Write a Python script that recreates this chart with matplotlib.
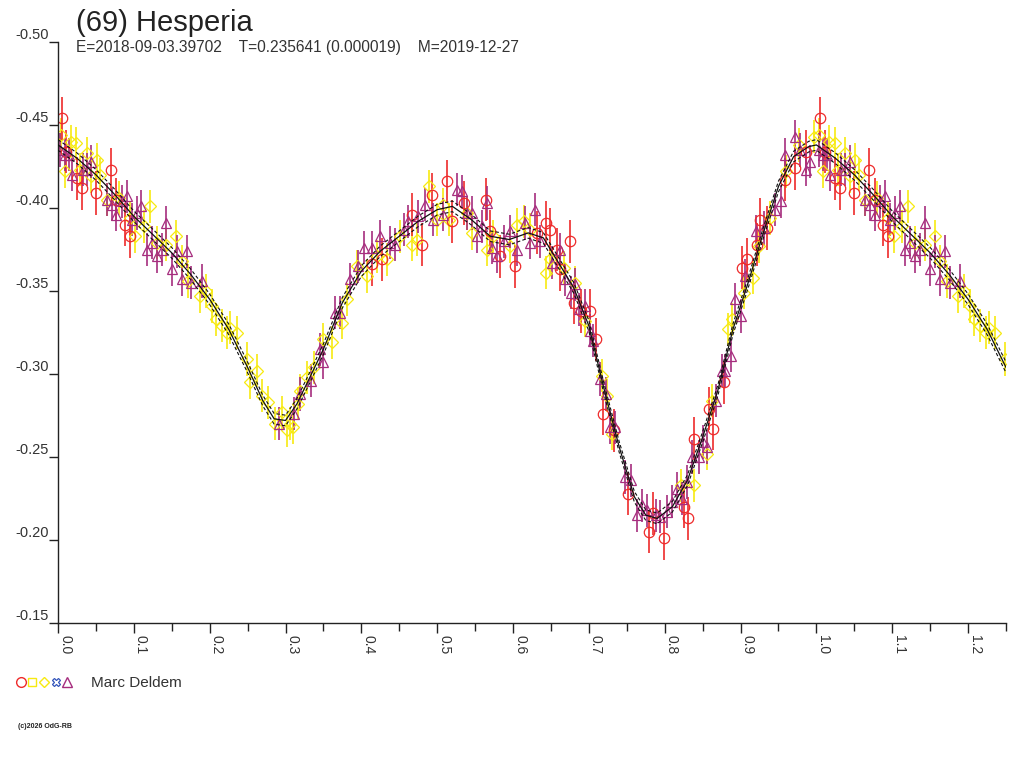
import numpy as np
import matplotlib
matplotlib.use("Agg")
import matplotlib.pyplot as plt
from matplotlib.lines import Line2D
from matplotlib.legend_handler import HandlerTuple

plt.rcParams['font.family'] = ['Liberation Sans', 'DejaVu Sans']

# ---------------- data ----------------
title = "(69) Hesperia"
subtitle = "E=2018-09-03.39702    T=0.235641 (0.000019)    M=2019-12-27"
observer = "Marc Deldem"
copyright_text = "(c)2026 OdG-RB"

# model light curve (phase, magnitude)
model_phase = [0.000, 0.025, 0.050, 0.075, 0.100, 0.125, 0.150, 0.175, 0.200, 0.225,
               0.250, 0.270, 0.285, 0.300, 0.315, 0.330, 0.350, 0.375, 0.400, 0.425,
               0.450, 0.475, 0.500, 0.520, 0.545, 0.570, 0.595, 0.620, 0.640, 0.660,
               0.680, 0.700, 0.720, 0.740, 0.760, 0.775, 0.790, 0.810, 0.830, 0.850,
               0.870, 0.890, 0.910, 0.930, 0.950, 0.970, 0.990, 1.000]
model_mag = [-0.438, -0.430, -0.420, -0.408, -0.395, -0.384, -0.373, -0.360, -0.345, -0.327,
             -0.304, -0.284, -0.273, -0.272, -0.282, -0.296, -0.315, -0.343, -0.362, -0.374,
             -0.383, -0.392, -0.399, -0.401, -0.393, -0.383, -0.381, -0.385, -0.382, -0.367,
             -0.352, -0.329, -0.291, -0.256, -0.226, -0.215, -0.213, -0.220, -0.236, -0.262,
             -0.290, -0.327, -0.355, -0.385, -0.413, -0.431, -0.437, -0.438]
model_sigma = 0.0032

red_phase = [0.005, 0.011, 0.025, 0.031, 0.050, 0.070, 0.077, 0.088, 0.095, 0.414,
             0.427, 0.467, 0.480, 0.493, 0.513, 0.519, 0.535, 0.565, 0.570, 0.583,
             0.603, 0.631, 0.643, 0.649, 0.658, 0.662, 0.675, 0.680, 0.689, 0.701,
             0.709, 0.719, 0.733, 0.752, 0.779, 0.785, 0.799, 0.825, 0.831, 0.838,
             0.858, 0.864, 0.878, 0.902, 0.909, 0.922, 0.926, 0.935, 0.959, 0.972, 0.986]
red_mag = [-0.454, -0.434, -0.418, -0.412, -0.409, -0.423, -0.405, -0.390, -0.383, -0.366,
           -0.369, -0.396, -0.378, -0.408, -0.416, -0.392, -0.403, -0.405, -0.386, -0.371,
           -0.365, -0.385, -0.391, -0.387, -0.375, -0.363, -0.380, -0.343, -0.338, -0.338,
           -0.321, -0.276, -0.266, -0.228, -0.205, -0.216, -0.201, -0.220, -0.213, -0.261,
           -0.279, -0.267, -0.295, -0.364, -0.369, -0.378, -0.393, -0.388, -0.417, -0.424, -0.434]
red_err = 0.013

yellow_phase = [0.004, 0.009, 0.017, 0.024, 0.029, 0.038, 0.044, 0.051, 0.056, 0.064,
                0.080, 0.095, 0.102, 0.113, 0.121, 0.130, 0.143, 0.156, 0.163, 0.172,
                0.187, 0.195, 0.203, 0.208, 0.216, 0.223, 0.227, 0.236, 0.249, 0.253,
                0.262, 0.269, 0.277, 0.286, 0.295, 0.302, 0.306, 0.310, 0.317, 0.319,
                0.328, 0.337, 0.350, 0.361, 0.374, 0.381, 0.394, 0.407, 0.420, 0.434,
                0.451, 0.467, 0.473, 0.489, 0.500, 0.508, 0.515, 0.539, 0.546, 0.566,
                0.574, 0.596, 0.605, 0.614, 0.623, 0.643, 0.649, 0.667, 0.682, 0.695,
                0.717, 0.724, 0.731, 0.822, 0.838, 0.856, 0.862, 0.884, 0.889, 0.904,
                0.917, 0.924, 0.939, 0.960, 0.977, 0.997]
yellow_mag = [-0.444, -0.422, -0.440, -0.439, -0.423, -0.433, -0.419, -0.429, -0.420, -0.405,
              -0.406, -0.394, -0.383, -0.389, -0.401, -0.379, -0.378, -0.383, -0.368, -0.356,
              -0.347, -0.350, -0.341, -0.333, -0.329, -0.325, -0.328, -0.325, -0.309, -0.295,
              -0.302, -0.287, -0.283, -0.270, -0.277, -0.266, -0.270, -0.268, -0.282, -0.290,
              -0.298, -0.304, -0.321, -0.319, -0.331, -0.345, -0.365, -0.359, -0.371, -0.369,
              -0.383, -0.378, -0.381, -0.413, -0.393, -0.402, -0.393, -0.397, -0.385, -0.375,
              -0.383, -0.377, -0.390, -0.392, -0.387, -0.361, -0.369, -0.364, -0.355, -0.332,
              -0.299, -0.287, -0.264, -0.233, -0.233, -0.252, -0.284, -0.327, -0.333, -0.349,
              -0.358, -0.377, -0.394, -0.422, -0.438, -0.443]
yellow_err = 0.010

purple_phase = [0.003, 0.009, 0.014, 0.018, 0.033, 0.038, 0.044, 0.064, 0.071, 0.077,
                0.084, 0.091, 0.097, 0.104, 0.110, 0.117, 0.124, 0.130, 0.137, 0.143,
                0.150, 0.157, 0.163, 0.170, 0.176, 0.190, 0.291, 0.311, 0.319, 0.333,
                0.346, 0.350, 0.365, 0.372, 0.385, 0.396, 0.403, 0.414, 0.424, 0.438,
                0.445, 0.456, 0.462, 0.475, 0.484, 0.495, 0.508, 0.526, 0.533, 0.539,
                0.546, 0.552, 0.559, 0.566, 0.572, 0.579, 0.588, 0.596, 0.605, 0.616,
                0.623, 0.629, 0.636, 0.651, 0.662, 0.669, 0.676, 0.682, 0.687, 0.695,
                0.702, 0.706, 0.715, 0.722, 0.728, 0.735, 0.748, 0.755, 0.763, 0.770,
                0.777, 0.788, 0.794, 0.803, 0.810, 0.816, 0.823, 0.829, 0.836, 0.845,
                0.851, 0.856, 0.867, 0.876, 0.880, 0.887, 0.893, 0.900, 0.906, 0.920,
                0.931, 0.946, 0.953, 0.959, 0.972, 0.979, 0.986, 0.992]
purple_mag = [-0.435, -0.432, -0.432, -0.420, -0.423, -0.423, -0.428, -0.405, -0.402, -0.396,
              -0.404, -0.407, -0.393, -0.397, -0.401, -0.375, -0.379, -0.371, -0.375, -0.391,
              -0.363, -0.374, -0.357, -0.374, -0.355, -0.356, -0.270, -0.276, -0.288, -0.296,
              -0.315, -0.307, -0.337, -0.337, -0.357, -0.365, -0.376, -0.376, -0.383, -0.379,
              -0.378, -0.387, -0.392, -0.395, -0.402, -0.393, -0.396, -0.411, -0.410, -0.397,
              -0.397, -0.383, -0.389, -0.403, -0.376, -0.371, -0.380, -0.386, -0.375, -0.391,
              -0.379, -0.399, -0.380, -0.367, -0.375, -0.357, -0.349, -0.354, -0.339, -0.341,
              -0.326, -0.320, -0.297, -0.288, -0.268, -0.268, -0.238, -0.236, -0.215, -0.221,
              -0.218, -0.215, -0.214, -0.217, -0.223, -0.231, -0.225, -0.235, -0.250, -0.250,
              -0.259, -0.256, -0.284, -0.302, -0.302, -0.311, -0.345, -0.335, -0.359, -0.386,
              -0.388, -0.399, -0.404, -0.432, -0.443, -0.435, -0.423, -0.428]
purple_err = 0.010

x_ticks = [0.0, 0.1, 0.2, 0.3, 0.4, 0.5, 0.6, 0.7, 0.8, 0.9, 1.0, 1.1, 1.2]
x_minor = [0.05, 0.15, 0.25, 0.35, 0.45, 0.55, 0.65, 0.75, 0.85, 0.95, 1.05, 1.15, 1.25]
y_ticks = [-0.50, -0.45, -0.40, -0.35, -0.30, -0.25, -0.20, -0.15]
phase_wrap = 0.25

RED = '#EE2A2A'
YELLOW = '#F7EA10'
PURPLE = '#A62D7E'
BLUE = '#3355BB'
TXT = '#333333'


def extend(ph, mag):
    ph = np.asarray(ph)
    mag = np.asarray(mag)
    m = ph < phase_wrap
    return np.concatenate([ph, ph[m] + 1.0]), np.concatenate([mag, mag[m]])


fig = plt.figure(figsize=(10.24, 7.68), dpi=100)
ax = fig.add_axes([58 / 1024, 1 - 623 / 768, (1006 - 58) / 1024, (623 - 42) / 768])

# data points
for ph, mg, err, col, mk, ms in [
    (yellow_phase, yellow_mag, yellow_err, YELLOW, 'D', 6.0),
    (red_phase, red_mag, red_err, RED, 'o', 7.5),
    (purple_phase, purple_mag, purple_err, PURPLE, '^', 7.5),
]:
    x, y = extend(ph, mg)
    ax.errorbar(x, y, yerr=err, fmt=mk, ms=ms, mfc='none', mec=col, mew=0.9,
                ecolor=col, elinewidth=1.2, capsize=0, zorder=2)

# model curve
mp = np.asarray(model_phase)
mm = np.asarray(model_mag)
sel = mp[1:] <= phase_wrap + 0.001
cx = np.concatenate([mp, mp[1:][sel] + 1.0])
cy = np.concatenate([mm, mm[1:][sel]])
ax.plot(cx, cy, color='#111111', lw=0.9, zorder=3)
ax.plot(cx, cy - model_sigma, color='#111111', lw=0.8, ls=(0, (3, 2)), zorder=3)
ax.plot(cx, cy + model_sigma, color='#111111', lw=0.8, ls=(0, (3, 2)), zorder=3)

ax.set_xlim(0, 1.25)
ax.set_ylim(-0.15, -0.50)
for s in ['top', 'right']:
    ax.spines[s].set_visible(False)
for s in ['left', 'bottom']:
    ax.spines[s].set_color('#222222')
    ax.spines[s].set_linewidth(1.0)

ax.set_xticks(x_ticks)
ax.set_xticks(x_minor, minor=True)
ax.set_xticklabels([f"{v:.1f}" for v in x_ticks], rotation=270, ha='left', va='top',
                   fontsize=10, color=TXT)
ax.tick_params(axis='x', which='major', length=7.5, width=1, color='#222222', pad=1)
ax.tick_params(axis='x', which='minor', length=6, width=1, color='#222222')

ax.set_yticks(y_ticks)
ax.set_yticklabels([f"{v:.2f}" for v in y_ticks], fontsize=10.5, color=TXT, va='bottom')
ax.tick_params(axis='y', which='major', length=6.5, width=1, color='#222222', pad=0)

# title texts
fig.text(76 / 1024, 1 - 31 / 768, title, fontsize=21, color='#222222', ha='left', va='baseline')
fig.text(76 / 1024, 1 - 52 / 768, subtitle, fontsize=11.2, color=TXT, ha='left', va='baseline')
fig.text(18 / 1024, 1 - 728 / 768, copyright_text, fontsize=5, color='#222222',
         ha='left', va='baseline', fontweight='bold')

# legend
handles = (
    Line2D([], [], ls='none', marker='o', ms=7, mfc='none', mec=RED, mew=1.0),
    Line2D([], [], ls='none', marker='s', ms=6, mfc='none', mec=YELLOW, mew=1.0),
    Line2D([], [], ls='none', marker='D', ms=5.5, mfc='none', mec=YELLOW, mew=1.0),
    Line2D([], [], ls='none', marker='X', ms=6, mfc='none', mec=BLUE, mew=0.9),
    Line2D([], [], ls='none', marker='^', ms=7, mfc='none', mec=PURPLE, mew=1.0),
)
fig.legend([handles], [observer], handler_map={tuple: HandlerTuple(ndivide=None, pad=0.0)},
           loc='center left', bbox_to_anchor=(15 / 1024, 1 - 683 / 768), frameon=False,
           handlelength=3.8, handletextpad=1.2, fontsize=11, labelcolor=TXT,
           borderpad=0, borderaxespad=0)

fig.savefig('out.png', dpi=100)
